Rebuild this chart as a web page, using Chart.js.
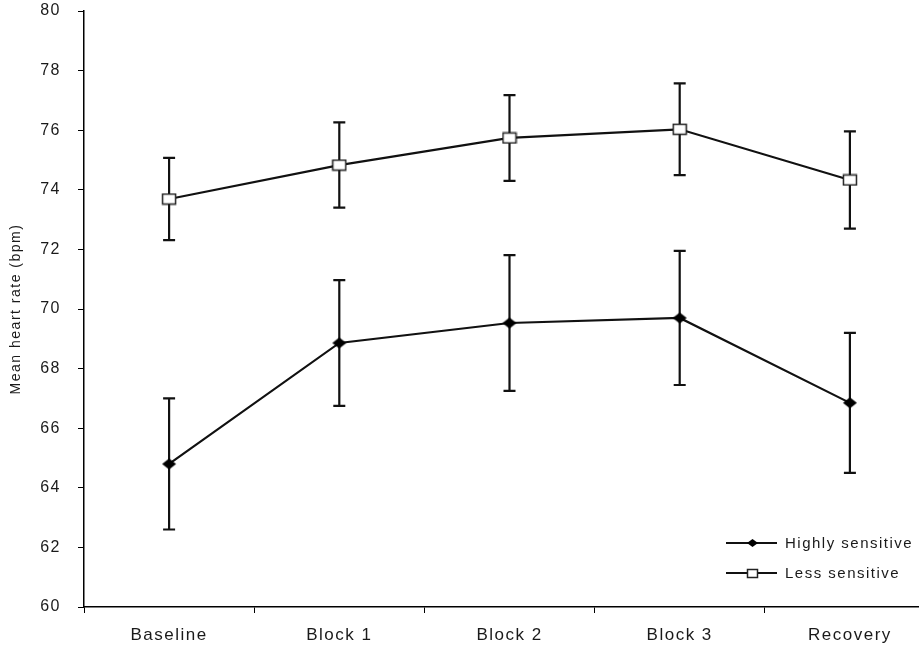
<!DOCTYPE html>
<html>
<head>
<meta charset="utf-8">
<script src="https://cdn.jsdelivr.net/npm/chart.js@4.4.0/dist/chart.umd.min.js"></script>
<style>
html,body{margin:0;padding:0;background:#ffffff;overflow:hidden;}
canvas{display:block;}
</style>
</head>
<body>
<canvas id="c" width="935" height="650"></canvas>
<script>
const categories = ['Baseline', 'Block 1', 'Block 2', 'Block 3', 'Recovery'];
const highlySensitive = [64.80, 68.86, 69.53, 69.70, 66.85];
const highlyErr = [2.20, 2.11, 2.28, 2.25, 2.35];
const lessSensitive = [73.69, 74.83, 75.74, 76.03, 74.33];
const lessErr = [1.38, 1.43, 1.44, 1.54, 1.63];
const yTicks = [60, 62, 64, 66, 68, 70, 72, 74, 76, 78, 80];
const seriesNames = ['Highly sensitive', 'Less sensitive'];

const FONT = "'Liberation Sans', Arial, sans-serif";
const INK = '#111111';

function makeDiamond(w, h) {
  const c = document.createElement('canvas');
  c.width = w + 2; c.height = h + 2;
  const g = c.getContext('2d');
  const cx = c.width / 2, cy = c.height / 2;
  g.beginPath();
  g.moveTo(cx, cy - h / 2);
  g.lineTo(cx + w / 2, cy);
  g.lineTo(cx, cy + h / 2);
  g.lineTo(cx - w / 2, cy);
  g.closePath();
  g.fillStyle = '#000';
  g.fill();
  return c;
}
function makeSquare(w, h) {
  const c = document.createElement('canvas');
  c.width = w + 2; c.height = h + 2;
  const g = c.getContext('2d');
  g.fillStyle = '#fff';
  g.fillRect(1.5, 1.5, w - 1, h - 1);
  g.strokeStyle = '#222';
  g.lineWidth = 1.5;
  g.strokeRect(1.5, 1.5, w - 1, h - 1);
  return c;
}
const diamond = makeDiamond(14, 11);
const square = makeSquare(14, 11);
const diamondSmall = makeDiamond(11, 8);
const squareSmall = makeSquare(11, 9);

const spacingPlugin = {
  id: 'spacing',
  beforeLayout(chart) { chart.ctx.letterSpacing = '1.5px'; },
  beforeDraw(chart) { chart.ctx.letterSpacing = '1.5px'; }
};

const errorBars = {
  id: 'errorBars',
  beforeDatasetsDraw(chart) {
    const ctx = chart.ctx;
    const y = chart.scales.y;
    const errs = [highlyErr, lessErr];
    ctx.save();
    ctx.strokeStyle = INK;
    ctx.lineWidth = 2.2;
    chart.data.datasets.forEach((ds, i) => {
      const meta = chart.getDatasetMeta(i);
      meta.data.forEach((pt, j) => {
        const v = ds.data[j], e = errs[i][j];
        const x = pt.x;
        const yt = y.getPixelForValue(v + e);
        const yb = y.getPixelForValue(v - e);
        ctx.beginPath();
        ctx.moveTo(x, yt); ctx.lineTo(x, yb);
        ctx.moveTo(x - 6, yt); ctx.lineTo(x + 6, yt);
        ctx.moveTo(x - 6, yb); ctx.lineTo(x + 6, yb);
        ctx.stroke();
      });
    });
    ctx.restore();
  }
};

const legendPlugin = {
  id: 'customLegend',
  afterDraw(chart) {
    const ctx = chart.ctx;
    const a = chart.chartArea;
    const x0 = a.left + 642, x1 = a.left + 693, xm = a.left + 668, xt = a.left + 701;
    const rows = [
      { y: a.bottom - 64, img: diamondSmall, label: seriesNames[0] },
      { y: a.bottom - 34, img: squareSmall, label: seriesNames[1] }
    ];
    ctx.save();
    ctx.letterSpacing = '1.5px';
    ctx.font = '15px ' + FONT;
    ctx.textAlign = 'left';
    ctx.textBaseline = 'middle';
    rows.forEach(r => {
      ctx.strokeStyle = INK;
      ctx.lineWidth = 2;
      ctx.beginPath();
      ctx.moveTo(x0, r.y); ctx.lineTo(x1, r.y);
      ctx.stroke();
      ctx.drawImage(r.img, Math.round(xm - r.img.width / 2), Math.round(r.y - r.img.height / 2));
      ctx.fillStyle = '#1a1a1a';
      ctx.fillText(r.label, xt, r.y + 1);
    });
    ctx.restore();
  }
};

new Chart(document.getElementById('c'), {
  type: 'line',
  data: {
    labels: categories,
    datasets: [
      {
        label: seriesNames[0],
        data: highlySensitive,
        borderColor: INK,
        borderWidth: 2.2,
        pointStyle: diamond,
        pointRadius: 7,
        pointHoverRadius: 7,
        tension: 0,
        fill: false
      },
      {
        label: seriesNames[1],
        data: lessSensitive,
        borderColor: INK,
        borderWidth: 2.2,
        pointStyle: square,
        pointRadius: 7,
        pointHoverRadius: 7,
        tension: 0,
        fill: false
      }
    ]
  },
  options: {
    responsive: false,
    maintainAspectRatio: false,
    animation: false,
    events: [],
    layout: { autoPadding: false, padding: { top: 11, right: 0, bottom: 0, left: 0 } },
    plugins: {
      legend: { display: false },
      tooltip: { enabled: false },
      title: { display: false }
    },
    scales: {
      x: {
        type: 'category',
        offset: true,
        grid: {
          display: true,
          drawOnChartArea: false,
          drawTicks: true,
          tickLength: 6,
          color: '#000',
          lineWidth: 1,
          offset: true
        },
        border: { display: true, color: '#000', width: 1.5 },
        ticks: {
          color: '#1a1a1a',
          font: { family: FONT, size: 17 },
          padding: 12,
          maxRotation: 0,
          autoSkip: false
        },
        afterFit(scale) {
          scale.height = 43;
          scale.paddingLeft = 0; scale.paddingRight = 0;
          scale.paddingTop = 0; scale.paddingBottom = 0;
        }
      },
      y: {
        min: 60,
        max: 80,
        afterBuildTicks(scale) { scale.ticks = yTicks.map(v => ({ value: v })); },
        grid: {
          display: true,
          drawOnChartArea: false,
          drawTicks: true,
          tickLength: 6,
          color: '#000',
          lineWidth: 1
        },
        border: { display: true, color: '#000', width: 1.5 },
        ticks: {
          color: '#1a1a1a',
          font: { family: FONT, size: 16 },
          padding: 17
        },
        title: {
          display: true,
          text: 'Mean heart rate (bpm)',
          color: '#1a1a1a',
          font: { family: FONT, size: 14 },
          padding: { top: 8, bottom: 0 }
        },
        afterFit(scale) {
          scale.width = 84;
          scale.paddingLeft = 0; scale.paddingRight = 0;
          scale.paddingTop = 0; scale.paddingBottom = 0;
        }
      }
    }
  },
  plugins: [spacingPlugin, errorBars, legendPlugin]
});
</script>
</body>
</html>
